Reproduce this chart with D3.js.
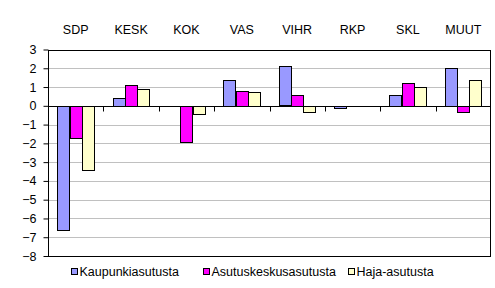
<!DOCTYPE html>
<html>
<head>
<meta charset="utf-8">
<script src="https://cdn.jsdelivr.net/npm/d3@7"></script>
<style>
  html, body { margin: 0; padding: 0; background: #fff; }
  svg { display: block; font-family: "Liberation Sans", Arial, sans-serif; }
</style>
</head>
<body>
<div id="chart"></div>
<script>
const parties = ["SDP", "KESK", "KOK", "VAS", "VIHR", "RKP", "SKL", "MUUT"];
const seriesNames = ["Kaupunkiasutusta", "Asutuskeskusasutusta", "Haja-asutusta"];
const kaupunki = [-6.6, 0.4, 0, 1.4, 2.1, -0.1, 0.6, 2.0];
const asutuskeskus = [-1.7, 1.1, -1.9, 0.8, 0.6, 0, 1.2, -0.3];
const haja = [-3.4, 0.9, -0.4, 0.75, -0.3, 0, 1.0, 1.4];
const yTicks = [3, 2, 1, 0, -1, -2, -3, -4, -5, -6, -7, -8];
const colors = ["#9999FF", "#FF00FF", "#FFFFCC"];

const width = 495;
const height = 288;
const plot = { left: 48, right: 491, top: 49.5, bottom: 256 };

const svg = d3.select("#chart")
  .append("svg")
  .attr("width", width)
  .attr("height", height);

const x = d3.scaleBand()
  .domain(parties)
  .range([plot.left, plot.right])
  .paddingInner(0)
  .paddingOuter(0);

// excel gap width 150%: group is 3 bars, gap 1.5 bars
const barW = x.bandwidth() / 4.5;
const xSeries = d3.scaleBand()
  .domain(seriesNames)
  .range([barW * 0.75, barW * 3.75]);

const y = d3.scaleLinear()
  .domain([-8, 3])
  .range([plot.bottom, plot.top]);

// gridlines
svg.append("g")
  .selectAll("line")
  .data(yTicks.filter((t) => t > -8 && t < 3))
  .join("line")
  .attr("x1", plot.left)
  .attr("x2", plot.right)
  .attr("y1", (d) => Math.round(y(d)) + 0.5)
  .attr("y2", (d) => Math.round(y(d)) + 0.5)
  .attr("stroke", "#C0C0C0")
  .attr("stroke-width", 1);

// bars
const data = [kaupunki, asutuskeskus, haja];
const barLayer = svg.append("g");
seriesNames.forEach((name, i) => {
  barLayer.append("g")
    .selectAll("rect")
    .data(data[i].map((v, j) => ({ party: parties[j], value: v })))
    .join("rect")
    .filter((d) => d.value !== 0)
    .attr("x", (d) => Math.round(x(d.party) + xSeries(name)) + 0.5)
    .attr("width", Math.round(xSeries.bandwidth()))
    .attr("y", (d) => Math.round(y(Math.max(0, d.value))) + 0.5)
    .attr("height", (d) => Math.max(1, Math.round(Math.abs(y(d.value) - y(0)))))
    .attr("fill", colors[i])
    .attr("stroke", "#000")
    .attr("stroke-width", 1);
});

// frame
svg.append("rect")
  .attr("x", plot.left + 0.5)
  .attr("y", Math.round(plot.top) + 0.5)
  .attr("width", plot.right - plot.left - 1)
  .attr("height", Math.round(plot.bottom) - Math.round(plot.top))
  .attr("fill", "none")
  .attr("stroke", "#000");

// zero line with category ticks
const zeroY = Math.round(y(0)) + 0.5;
svg.append("line")
  .attr("x1", plot.left)
  .attr("x2", plot.right)
  .attr("y1", zeroY)
  .attr("y2", zeroY)
  .attr("stroke", "#000");

svg.append("g")
  .selectAll("line")
  .data(parties.slice(1))
  .join("line")
  .attr("x1", (d) => Math.round(x(d)) + 0.5)
  .attr("x2", (d) => Math.round(x(d)) + 0.5)
  .attr("y1", zeroY)
  .attr("y2", zeroY + 5)
  .attr("stroke", "#000");

// y axis
const yAxis = svg.append("g")
  .attr("transform", `translate(${plot.left + 0.5},0)`)
  .call(d3.axisLeft(y).tickValues(yTicks).tickFormat(d3.format("d")).tickSize(5).tickPadding(7));
yAxis.select(".domain").remove();
yAxis.selectAll(".tick line").attr("stroke", "#000");
yAxis.selectAll("text")
  .attr("font-size", 12.5)
  .attr("fill", "#000")
  .attr("font-family", "Liberation Sans, Arial, sans-serif");

// category labels at top
svg.append("g")
  .selectAll("text")
  .data(parties)
  .join("text")
  .attr("x", (d) => x(d) + x.bandwidth() / 2)
  .attr("y", 33.5)
  .attr("text-anchor", "middle")
  .attr("font-size", 12.5)
  .text((d) => d);

// legend
const legendX = [71, 203, 348];
const legend = svg.append("g");
seriesNames.forEach((name, i) => {
  legend.append("rect")
    .attr("x", legendX[i] + 0.5)
    .attr("y", 268.5)
    .attr("width", 6)
    .attr("height", 6)
    .attr("fill", colors[i])
    .attr("stroke", "#000");
  legend.append("text")
    .attr("x", legendX[i] + 8.5)
    .attr("y", 276)
    .attr("font-size", 12.5)
    .text(name);
});
</script>
</body>
</html>
